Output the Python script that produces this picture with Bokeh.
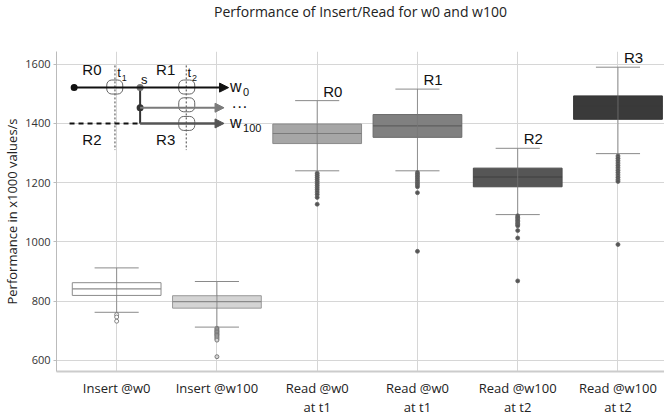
from bokeh.plotting import figure
from bokeh.models import Range1d, FixedTicker, Arrow, NormalHead, Label
from bokeh.embed import file_html
from bokeh.resources import INLINE

# ---------------- data ----------------
title_text = "Performance of Insert/Read for w0 and w100"
categories = ["Insert @w0", "Insert @w100", "Read @w0\nat t1", "Read @w0\nat t1",
              "Read @w100\nat t2", "Read @w100\nat t2"]
tags = ["", "", "R0", "R1", "R2", "R3"]
upper_whisker = [912, 866, 1477, 1516, 1316, 1590]
q3 = [862, 818, 1398, 1430, 1249, 1493]
median = [841, 798, 1366, 1392, 1219, 1458]
q1 = [819, 776, 1332, 1353, 1186, 1414]
lower_whisker = [762, 712, 1240, 1240, 1092, 1298]
outliers_0 = [754, 746, 732]
outliers_1 = [708, 704, 700, 697, 694, 690, 687, 684, 680, 676, 672, 668, 612]
outliers_2 = [1232, 1225, 1218, 1211, 1204, 1197, 1190, 1183, 1176, 1168, 1160, 1150, 1127]
outliers_3 = [1234, 1228, 1222, 1216, 1210, 1204, 1198, 1192, 1186, 1166, 968]
outliers_4 = [1088, 1083, 1078, 1073, 1068, 1063, 1058, 1054, 1038, 1013, 868]
outliers_5 = [1290, 1282, 1274, 1266, 1258, 1250, 1242, 1234, 1226, 1218, 1210, 1204, 991]
y_ticks = [600, 800, 1000, 1200, 1400, 1600]

fills = ["#ffffff", "#d4d4d4", "#a6a6a6", "#808080", "#565656", "#3a3a3a"]
edges = ["#8c8c8c", "#9a9a9a", "#8a8a8a", "#6a6a6a", "#4a4a4a", "#333333"]
med_colors = ["#8c8c8c", "#8a8a8a", "#7a7a7a", "#5e5e5e", "#3e3e3e", "#3a3a3a"]

xs = list(range(len(categories)))
all_out = [outliers_0, outliers_1, outliers_2, outliers_3, outliers_4, outliers_5]
out_x = [i for i, o in enumerate(all_out) for _ in o]
out_y = [v for o in all_out for v in o]
out_fill = [fills[i] if i < 2 else "#555555" for i, o in enumerate(all_out) for _ in o]

BW = 0.885
CW = 0.44

p = figure(width=664, height=419, output_backend="svg", toolbar_location=None,
           x_range=Range1d(-0.60, 5.464), y_range=Range1d(562, 1643),
           min_border_left=54, min_border_right=0, min_border_top=50, min_border_bottom=44,
           title=title_text + "\n")
p.outline_line_color = None
p.background_fill_color = "white"
p.title.align = "center"
p.title.vertical_align = "top"
p.title.text_font = "Open Sans"
p.title.text_font_size = "14px"
p.title.text_font_style = "normal"
p.title.text_color = "#222222"
p.title.text_line_height = 1.45
p.title.standoff = 2

p.xaxis.ticker = FixedTicker(ticks=xs)
p.xaxis.major_label_overrides = {i: c for i, c in enumerate(categories)}
p.xaxis.major_tick_line_color = None
p.xaxis.major_tick_out = 0
p.xaxis.major_tick_in = 0
p.xaxis.minor_tick_line_color = None
p.xaxis.axis_line_color = "#cccccc"
p.xaxis.axis_line_width = 2
p.xaxis.major_label_text_font = "Open Sans"
p.xaxis.major_label_text_font_size = "13px"
p.xaxis.major_label_text_color = "#222222"
p.xaxis.major_label_text_line_height = 1.1
p.xaxis.major_label_standoff = 7

p.yaxis.ticker = FixedTicker(ticks=y_ticks)
p.yaxis.axis_label = "Performance in x1000 values/s"
p.yaxis.axis_label_text_font = "Open Sans"
p.yaxis.axis_label_text_font_size = "13px"
p.yaxis.axis_label_text_font_style = "normal"
p.yaxis.axis_label_text_color = "#222222"
p.yaxis.axis_label_standoff = 1
p.yaxis.major_label_text_font = "Open Sans"
p.yaxis.major_label_text_font_size = "11px"
p.yaxis.major_label_text_color = "#333333"
p.yaxis.major_label_standoff = 3
p.yaxis.major_tick_out = 3
p.yaxis.major_tick_in = 0
p.yaxis.minor_tick_line_color = None
p.yaxis.axis_line_color = "#bbbbbb"
p.yaxis.major_tick_line_color = "#bbbbbb"

p.xgrid.ticker = FixedTicker(ticks=xs)
p.ygrid.ticker = FixedTicker(ticks=y_ticks)
p.grid.grid_line_color = "#d6d6d6"
p.grid.grid_line_width = 1

# boxes
p.vbar(x=xs, width=BW, top=q3, bottom=q1, fill_color=fills, line_color=edges, line_width=1)
p.segment(x0=[x - BW / 2 for x in xs], x1=[x + BW / 2 for x in xs], y0=median, y1=median,
          line_color=med_colors, line_width=1.2)
p.segment(x0=xs, x1=xs, y0=lower_whisker, y1=upper_whisker, line_color="#777777",
          line_alpha=0.75, line_width=1)
p.segment(x0=[x - CW / 2 for x in xs], x1=[x + CW / 2 for x in xs], y0=upper_whisker,
          y1=upper_whisker, line_color="#8a8a8a", line_width=1)
p.segment(x0=[x - CW / 2 for x in xs], x1=[x + CW / 2 for x in xs], y0=lower_whisker,
          y1=lower_whisker, line_color="#8a8a8a", line_width=1)
p.scatter(x=out_x, y=out_y, size=4, fill_color=out_fill, line_color="#666666", line_width=0.8)

# R tags above boxes
for i, t in enumerate(tags):
    if t:
        p.add_layout(Label(x=xs[i] + 0.06, y=upper_whisker[i] + 3, text=t,
                           text_font="Liberation Sans", text_font_size="15px",
                           text_color="#111111", text_baseline="bottom", text_align="left"))

# ---------------- inset diagram (illustration) ----------------
def lab(x, y, t, size="15px", color="#111111", align="left", base="middle"):
    p.add_layout(Label(x=x, y=y, text=t, text_font="Liberation Sans", text_font_size=size,
                       text_color=color, text_align=align, text_baseline=base))

# dotted time lines t1, t2
p.segment(x0=[-0.017, 0.694], x1=[-0.017, 0.694], y0=[1596, 1596], y1=[1310, 1310],
          line_color="#444444", line_dash="2 2", line_width=1)
# dashed w100 history line
p.segment(x0=[-0.47], x1=[0.234], y0=[1400], y1=[1400], line_color="#111111",
          line_dash="5 4", line_width=2)
# split vertical
p.segment(x0=[0.234], x1=[0.234], y0=[1521], y1=[1400], line_color="#333333", line_width=2)
# arrows
p.add_layout(Arrow(x_start=-0.424, y_start=1521, x_end=1.116, y_end=1521, line_color="#111111",
                   line_width=2, end=NormalHead(size=9, fill_color="#111111", line_color="#111111")))
p.add_layout(Arrow(x_start=0.234, y_start=1453, x_end=1.071, y_end=1453, line_color="#7a7a7a",
                   line_width=2, end=NormalHead(size=9, fill_color="#7a7a7a", line_color="#7a7a7a")))
p.add_layout(Arrow(x_start=0.234, y_start=1400, x_end=1.071, y_end=1400, line_color="#555555",
                   line_width=2.5, end=NormalHead(size=9, fill_color="#555555", line_color="#555555")))
# dots
p.scatter(x=[-0.424, 0.234, 0.234], y=[1521, 1521, 1453], size=7,
          fill_color=["#111111", "#777777", "#333333"], line_color=None)
# rounded markers
p.rect(x=[-0.019, 0.699, 0.699, 0.699], y=[1523, 1523, 1463, 1400], width=16, height=14,
       width_units="screen", height_units="screen", fill_color="white", fill_alpha=0.0,
       line_color="#666666", line_width=1, border_radius=5)
# texts
lab(-0.342, 1583, "R0")
lab(0.393, 1583, "R1")
lab(-0.342, 1347, "R2")
lab(0.393, 1347, "R3")
lab(0.244, 1550, "s", size="13px")
lab(0.006, 1571, "t", size="13px")
lab(0.051, 1554, "1", size="9px")
lab(0.706, 1571, "t", size="13px")
lab(0.751, 1552, "2", size="9px")
lab(1.131, 1525, "w", size="16px")
lab(1.261, 1506, "0", size="11px")
lab(1.131, 1402, "w", size="16px")
lab(1.261, 1385, "100", size="11px")
lab(1.146, 1458, "\u00b7\u00b7\u00b7", size="16px")

open("out.html", "w").write(file_html(p, INLINE))
